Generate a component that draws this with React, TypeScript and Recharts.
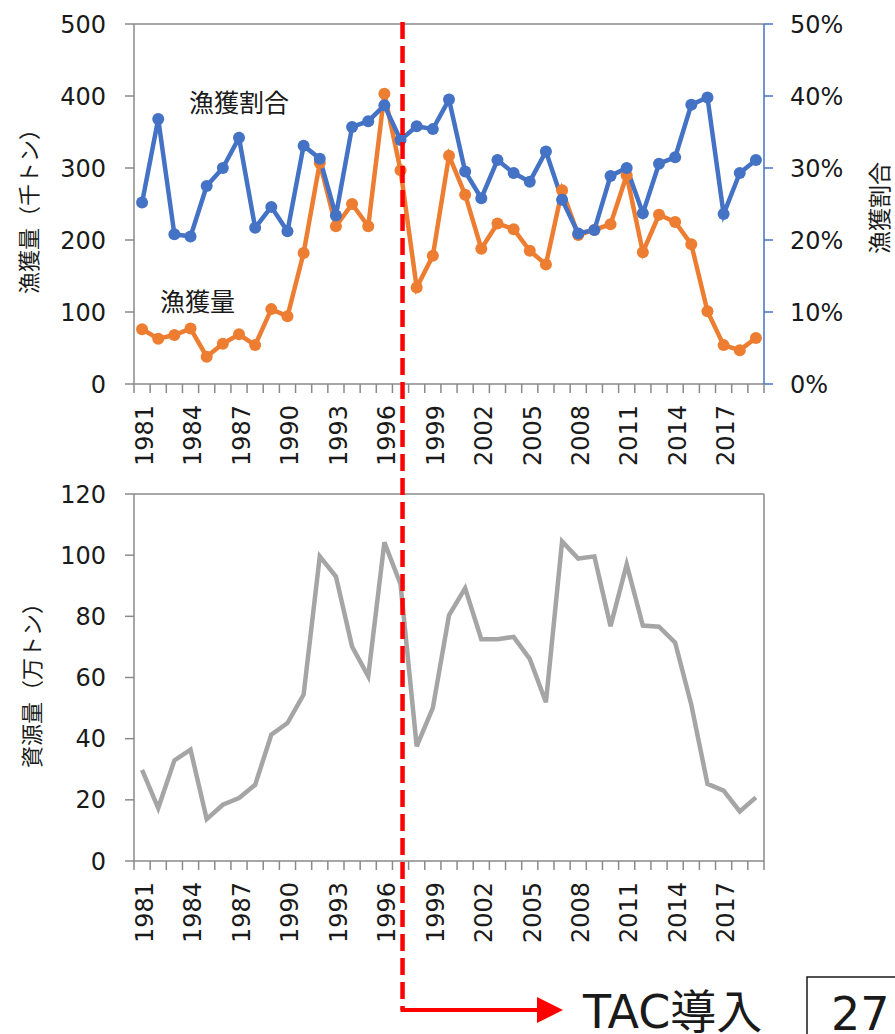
import React from 'react';
import { LineChart, Line, XAxis, YAxis, ReferenceLine } from 'recharts';

// ---- data ----
const years = [
  1981, 1982, 1983, 1984, 1985, 1986, 1987, 1988, 1989, 1990,
  1991, 1992, 1993, 1994, 1995, 1996, 1997, 1998, 1999, 2000,
  2001, 2002, 2003, 2004, 2005, 2006, 2007, 2008, 2009, 2010,
  2011, 2012, 2013, 2014, 2015, 2016, 2017, 2018, 2019,
];
// 漁獲量（千トン）
const catchThousandTonnes = [
  76, 63, 68, 77, 38, 56, 69, 54, 104, 94,
  182, 307, 219, 250, 219, 403, 297, 134, 178, 317,
  263, 188, 223, 215, 185, 166, 269, 207, 214, 222,
  290, 183, 235, 225, 194, 101, 54, 47, 64,
];
// 漁獲割合（%）
const catchRatioPct = [
  25.2, 36.8, 20.8, 20.5, 27.5, 30.0, 34.2, 21.7, 24.6, 21.2,
  33.1, 31.3, 23.4, 35.7, 36.5, 38.7, 33.9, 35.8, 35.4, 39.5,
  29.5, 25.8, 31.1, 29.3, 28.1, 32.3, 25.6, 20.9, 21.4, 28.9,
  30.0, 23.7, 30.6, 31.5, 38.8, 39.8, 23.6, 29.3, 31.1,
];
// 資源量（万トン）
const stockTenThousandTonnes = [
  29.8, 17.3, 32.9, 36.4, 13.7, 18.4, 20.6, 24.9, 41.3, 45.1,
  54.4, 99.6, 93.0, 70.1, 60.4, 104.2, 90.5, 37.5, 50.1, 80.3,
  89.2, 72.5, 72.5, 73.3, 66.1, 51.9, 104.5, 98.9, 99.6, 76.8,
  97.0, 77.0, 76.6, 71.4, 51.1, 25.2, 23.0, 16.2, 20.8,
];
const yearLabels = [1981, 1984, 1987, 1990, 1993, 1996, 1999, 2002, 2005, 2008, 2011, 2014, 2017];
const catchTicks = [0, 100, 200, 300, 400, 500];
const ratioTicks = [0, 10, 20, 30, 40, 50];
const stockTicks = [0, 20, 40, 60, 80, 100, 120];
const tacYear = 1997;

// ---- styles ----
const FONT = "'DejaVu Sans', 'Noto Sans CJK JP', sans-serif";
const JFONT = "'Noto Sans CJK JP', 'DejaVu Sans', sans-serif";
const AXIS = '#8a8a8a';
const BLUE = '#4472C4';
const ORANGE = '#ED7D31';
const GRAY = '#A5A5A5';
const TEXT = '#1a1a1a';

const W = 895;
const PLOT_LEFT = 134;
const PLOT_RIGHT = 764;
const Y_AXIS_W = 70;

const xDomain: [number, number] = [years[0] - 0.5, years[years.length - 1] + 0.5];
const boundaryTicks = [...years.map((y) => y - 0.5), years[years.length - 1] + 0.5];
const xTicks = [...boundaryTicks, ...yearLabels];

const topData = years.map((year, i) => ({
  year,
  catchAmt: catchThousandTonnes[i],
  ratio: catchRatioPct[i],
}));
const bottomData = years.map((year, i) => ({ year, stock: stockTenThousandTonnes[i] }));

const XTick = (props: any) => {
  const { x, y, payload } = props;
  const v = payload.value as number;
  if (!Number.isInteger(v)) {
    return <line x1={x} y1={y} x2={x} y2={y + 9} stroke={AXIS} strokeWidth={1.5} />;
  }
  const ty = y + 21;
  return (
    <text
      x={x}
      y={ty}
      transform={`rotate(-90, ${x}, ${ty})`}
      textAnchor="end"
      dy="0.45em"
      fontSize={24}
      fontFamily={FONT}
      fill={TEXT}
    >
      {v}
    </text>
  );
};

const TOP_H = 470;
const BOTTOM_TOP = 470;
const BOTTOM_H = 480;

export default function App() {
  const xSpan = xDomain[1] - xDomain[0];
  const tacX = PLOT_LEFT + ((tacYear - xDomain[0]) / xSpan) * (PLOT_RIGHT - PLOT_LEFT) + 2;

  return (
    <div style={{ position: 'absolute', left: 0, top: 0, width: W, height: 1034, background: '#fff', overflow: 'hidden' }}>
      <div style={{ position: 'absolute', left: 0, top: 0 }}>
        <LineChart
          width={W}
          height={TOP_H}
          data={topData}
          margin={{ top: 24, left: PLOT_LEFT - Y_AXIS_W, right: W - PLOT_RIGHT - Y_AXIS_W, bottom: TOP_H - 384 - 70 }}
        >
          <XAxis
            dataKey="year"
            type="number"
            domain={xDomain}
            ticks={xTicks}
            interval={0}
            tick={<XTick />}
            tickLine={false}
            tickSize={0}
            tickMargin={0}
            height={70}
            axisLine={{ stroke: AXIS, strokeWidth: 1.5 }}
            xAxisId="x"
          />
          <YAxis
            yAxisId="left"
            domain={[0, 500]}
            ticks={catchTicks}
            interval={0}
            width={Y_AXIS_W}
            tickSize={9}
            tickMargin={19}
            axisLine={{ stroke: AXIS, strokeWidth: 1.5 }}
            tickLine={{ stroke: AXIS, strokeWidth: 1.5 }}
            tick={{ fill: TEXT, fontSize: 24, fontFamily: FONT }}
          />
          <YAxis
            yAxisId="right"
            orientation="right"
            domain={[0, 50]}
            ticks={ratioTicks}
            interval={0}
            width={Y_AXIS_W}
            tickSize={9}
            tickMargin={17}
            tickFormatter={(v: number) => `${v}%`}
            axisLine={{ stroke: BLUE, strokeWidth: 1.5 }}
            tickLine={{ stroke: BLUE, strokeWidth: 1.5 }}
            tick={{ fill: TEXT, fontSize: 24, fontFamily: FONT }}
          />
          <ReferenceLine yAxisId="left" xAxisId="x" y={500} stroke={AXIS} strokeWidth={1.5} />
          <Line
            xAxisId="x"
            yAxisId="left"
            dataKey="catchAmt"
            stroke={ORANGE}
            strokeWidth={4.5}
            dot={{ r: 6, fill: ORANGE, stroke: ORANGE, strokeWidth: 0 }}
            isAnimationActive={false}
          />
          <Line
            xAxisId="x"
            yAxisId="right"
            dataKey="ratio"
            stroke={BLUE}
            strokeWidth={4.5}
            dot={{ r: 6, fill: BLUE, stroke: BLUE, strokeWidth: 0 }}
            isAnimationActive={false}
          />
        </LineChart>
      </div>

      <div style={{ position: 'absolute', left: 0, top: BOTTOM_TOP }}>
        <LineChart
          width={W}
          height={BOTTOM_H}
          data={bottomData}
          margin={{ top: 494 - BOTTOM_TOP, left: PLOT_LEFT - Y_AXIS_W, right: W - PLOT_RIGHT, bottom: BOTTOM_H - (861 - BOTTOM_TOP) - 70 }}
        >
          <XAxis
            dataKey="year"
            type="number"
            domain={xDomain}
            ticks={xTicks}
            interval={0}
            tick={<XTick />}
            tickLine={false}
            tickSize={0}
            tickMargin={0}
            height={70}
            axisLine={{ stroke: AXIS, strokeWidth: 1.5 }}
            xAxisId="x"
          />
          <YAxis
            yAxisId="left"
            domain={[0, 120]}
            ticks={stockTicks}
            interval={0}
            width={Y_AXIS_W}
            tickSize={9}
            tickMargin={19}
            axisLine={{ stroke: AXIS, strokeWidth: 1.5 }}
            tickLine={{ stroke: AXIS, strokeWidth: 1.5 }}
            tick={{ fill: TEXT, fontSize: 24, fontFamily: FONT }}
          />
          <ReferenceLine yAxisId="left" xAxisId="x" y={120} stroke={AXIS} strokeWidth={1.5} />
          <ReferenceLine yAxisId="left" xAxisId="x" x={xDomain[1]} stroke={AXIS} strokeWidth={1.5} />
          <Line
            xAxisId="x"
            yAxisId="left"
            dataKey="stock"
            stroke={GRAY}
            strokeWidth={4.5}
            dot={false}
            isAnimationActive={false}
          />
        </LineChart>
      </div>

      <svg
        width={W}
        height={1034}
        style={{ position: 'absolute', left: 0, top: 0, pointerEvents: 'none' }}
      >
        {/* axis titles */}
        <text
          x={27}
          y={206}
          transform="rotate(-90, 27, 206)"
          textAnchor="middle"
          dominantBaseline="central"
          fontSize={22}
          fontFamily={JFONT}
          fill={TEXT}
        >
          漁獲量（千トン）
        </text>
        <text
          x={878}
          y={208}
          transform="rotate(-90, 878, 208)"
          textAnchor="middle"
          dominantBaseline="central"
          fontSize={23}
          fontFamily={JFONT}
          fill={TEXT}
        >
          漁獲割合
        </text>
        <text
          x={30}
          y={680}
          transform="rotate(-90, 30, 680)"
          textAnchor="middle"
          dominantBaseline="central"
          fontSize={22}
          fontFamily={JFONT}
          fill={TEXT}
        >
          資源量（万トン）
        </text>

        {/* series annotations */}
        <text x={189} y={112} fontSize={25} fontFamily={JFONT} fill={TEXT}>漁獲割合</text>
        <text x={160} y={311} fontSize={25} fontFamily={JFONT} fill={TEXT}>漁獲量</text>

        {/* TAC introduction marker */}
        <line x1={tacX} y1={22} x2={tacX} y2={1010} stroke="#FF0000" strokeWidth={4.5} strokeDasharray="17 7" />
        <line x1={tacX - 2} y1={1010} x2={540} y2={1010} stroke="#FF0000" strokeWidth={4} />
        <polygon points="537,997 563,1010 537,1023" fill="#FF0000" />
        <text x={583} y={1028} fontSize={46} fontFamily={FONT} fill={TEXT}>TAC導入</text>
        <rect x={807} y={977} width={120} height={90} fill="none" stroke={TEXT} strokeWidth={1.5} />
        <text x={831} y={1030} fontSize={46} fontFamily={FONT} fill={TEXT}>27</text>
      </svg>
    </div>
  );
}
